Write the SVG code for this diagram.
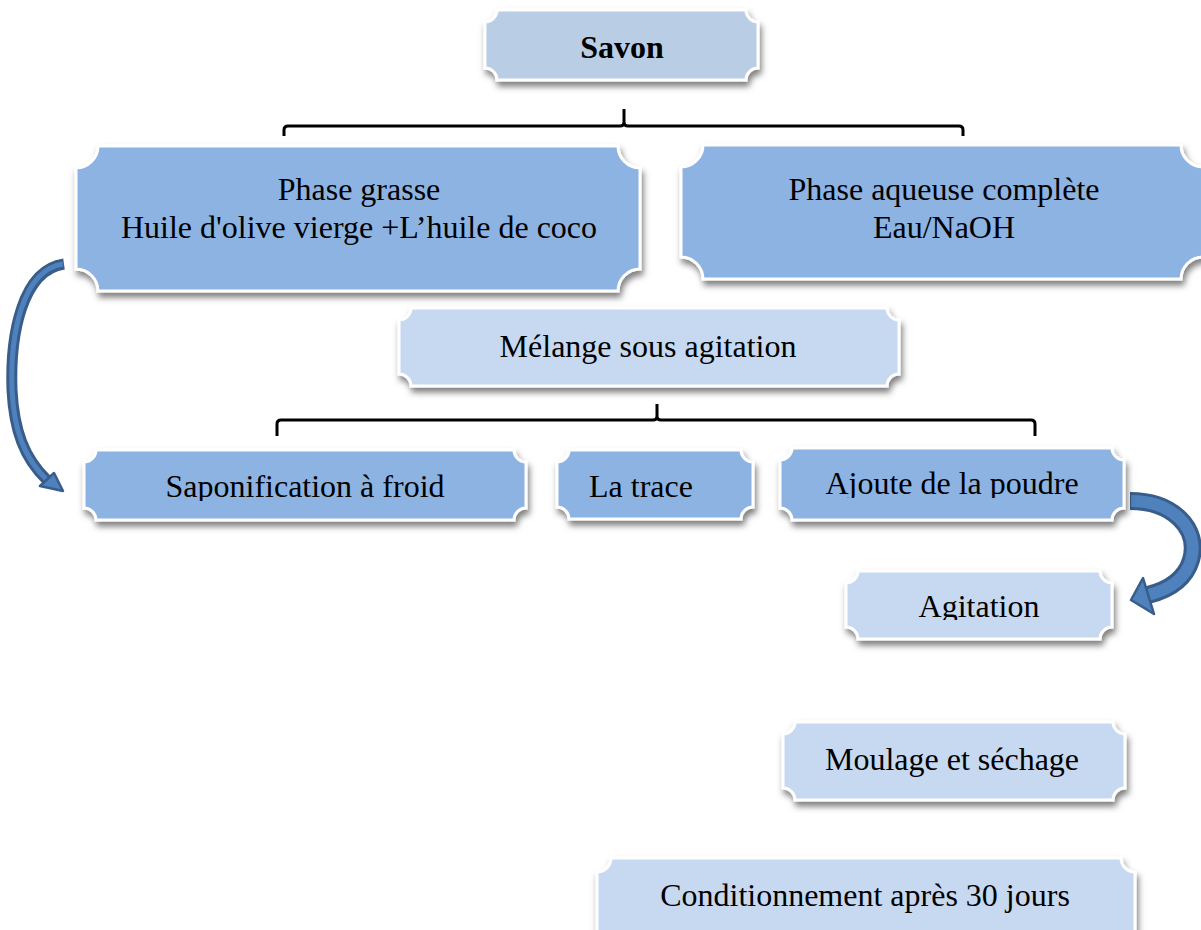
<svg xmlns="http://www.w3.org/2000/svg" width="1201" height="930" viewBox="0 0 1201 930">
<style>
.box{stroke:#fff;stroke-width:3;filter:url(#sh)}
.dk{fill:#8DB3E2}
.md{fill:#B9CDE5}
.lt{fill:#C6D9F1}
text{font-family:"Liberation Serif","Times New Roman",serif;font-size:32px;fill:#000;text-anchor:middle}
.br{fill:none;stroke:#000;stroke-width:3}
.arO{fill:none;stroke:#385D8A;stroke-linecap:butt}
.arI{fill:none;stroke:#4F81BD;stroke-linecap:butt}
.hd{fill:#4F81BD;stroke:#385D8A;stroke-width:2.5;stroke-linejoin:round}
</style>
<defs>
<filter id="sh" x="-10%" y="-20%" width="120%" height="150%">
<feDropShadow dx="2" dy="5" stdDeviation="3" flood-color="#000" flood-opacity="0.5"/>
</filter>
<clipPath id="c1"><rect x="0" y="0" width="1201" height="501"/></clipPath>
<clipPath id="c2"><rect x="0" y="0" width="1201" height="498"/></clipPath>
<clipPath id="c3"><rect x="0" y="0" width="1201" height="620"/></clipPath>
</defs>
<rect width="1201" height="930" fill="#fff"/>

<g id="connectors">
<path class="br" d="M284,136 L284,130 Q284,126 288,126 L620,126 Q624,126 624,122 L624,109 M624,122 Q624,126 628,126 L959,126 Q963,126 963,130 L963,136"/>
<path class="br" d="M277,436 L277,424 Q277,420 281,420 L653,420 Q657,420 657,416 L657,404 M657,416 Q657,420 661,420 L1031,420 Q1035,420 1035,424 L1035,436"/>
<path class="arO" stroke-width="11" d="M64,264 C22,270 10,335 12,390 C14,430 24,458 47,480"/>
<path class="arI" stroke-width="5" d="M63,264 C22,270 10,335 12,390 C14,430 24,458 47,480"/>
<polygon class="hd" points="40,486 54,473 63,491"/>
<path class="arO" stroke-width="18" d="M1130,501 C1172,501 1200,528 1191,560 C1185,580 1168,590 1148,595"/>
<path class="arI" stroke-width="12" d="M1131,501 C1172,501 1200,528 1191,560 C1185,580 1168,590 1148,595"/>
<polygon class="hd" points="1143,578 1154,614 1131,600"/>
</g>

<g id="savon"><path class="box md" d="M497,10 L746,10 A12,12 0 0 0 758,22 L758,68 A12,12 0 0 0 746,80 L497,80 A12,12 0 0 0 485,68 L485,22 A12,12 0 0 0 497,10 Z"/>
<text x="622" y="58" font-weight="bold" font-size="31">Savon</text></g>

<g id="phase-grasse"><path class="box dk" d="M98,146 L618,146 A22,22 0 0 0 640,168 L640,269 A22,22 0 0 0 618,291 L98,291 A22,22 0 0 0 76,269 L76,168 A22,22 0 0 0 98,146 Z"/>
<text x="359" y="200">Phase grasse</text>
<text x="359" y="238">Huile d'olive vierge +L’huile de coco</text></g>

<g id="phase-aqueuse"><path class="box dk" d="M703,145 L1181,145 A22,22 0 0 0 1203,167 L1203,257 A22,22 0 0 0 1181,279 L703,279 A22,22 0 0 0 681,257 L681,167 A22,22 0 0 0 703,145 Z"/>
<text x="944" y="200">Phase aqueuse complète</text>
<text x="944" y="238">Eau/NaOH</text></g>

<g id="melange"><path class="box lt" d="M411,308 L887,308 A12,12 0 0 0 899,320 L899,374 A12,12 0 0 0 887,386 L411,386 A12,12 0 0 0 399,374 L399,320 A12,12 0 0 0 411,308 Z"/>
<text x="648" y="357">Mélange sous agitation</text></g>

<g id="saponification"><path class="box dk" d="M96,450 L514,450 A12,12 0 0 0 526,462 L526,508 A12,12 0 0 0 514,520 L96,520 A12,12 0 0 0 84,508 L84,462 A12,12 0 0 0 96,450 Z"/>
<text x="305" y="497" clip-path="url(#c1)">Saponification à froid</text></g>

<g id="la-trace"><path class="box dk" d="M569,450 L741,450 A12,12 0 0 0 753,462 L753,507 A12,12 0 0 0 741,519 L569,519 A12,12 0 0 0 557,507 L557,462 A12,12 0 0 0 569,450 Z"/>
<text x="641" y="497">La trace</text></g>

<g id="ajoute"><path class="box dk" d="M792,448 L1112,448 A12,12 0 0 0 1124,460 L1124,508 A12,12 0 0 0 1112,520 L792,520 A12,12 0 0 0 780,508 L780,460 A12,12 0 0 0 792,448 Z"/>
<text x="952" y="494" clip-path="url(#c2)">Ajoute de la poudre</text></g>

<g id="agitation"><path class="box lt" d="M858,571 L1100,571 A12,12 0 0 0 1112,583 L1112,627 A12,12 0 0 0 1100,639 L858,639 A12,12 0 0 0 846,627 L846,583 A12,12 0 0 0 858,571 Z"/>
<text x="979" y="617" clip-path="url(#c3)">Agitation</text></g>

<g id="moulage"><path class="box lt" d="M795,722 L1113,722 A12,12 0 0 0 1125,734 L1125,788 A12,12 0 0 0 1113,800 L795,800 A12,12 0 0 0 783,788 L783,734 A12,12 0 0 0 795,722 Z"/>
<text x="952" y="770">Moulage et séchage</text></g>

<g id="conditionnement"><path class="box lt" d="M611,858 L1121,858 A14,14 0 0 0 1135,872 L1135,934 A14,14 0 0 0 1121,948 L611,948 A14,14 0 0 0 597,934 L597,872 A14,14 0 0 0 611,858 Z"/>
<text x="865" y="906">Conditionnement après 30 jours</text></g>
</svg>
